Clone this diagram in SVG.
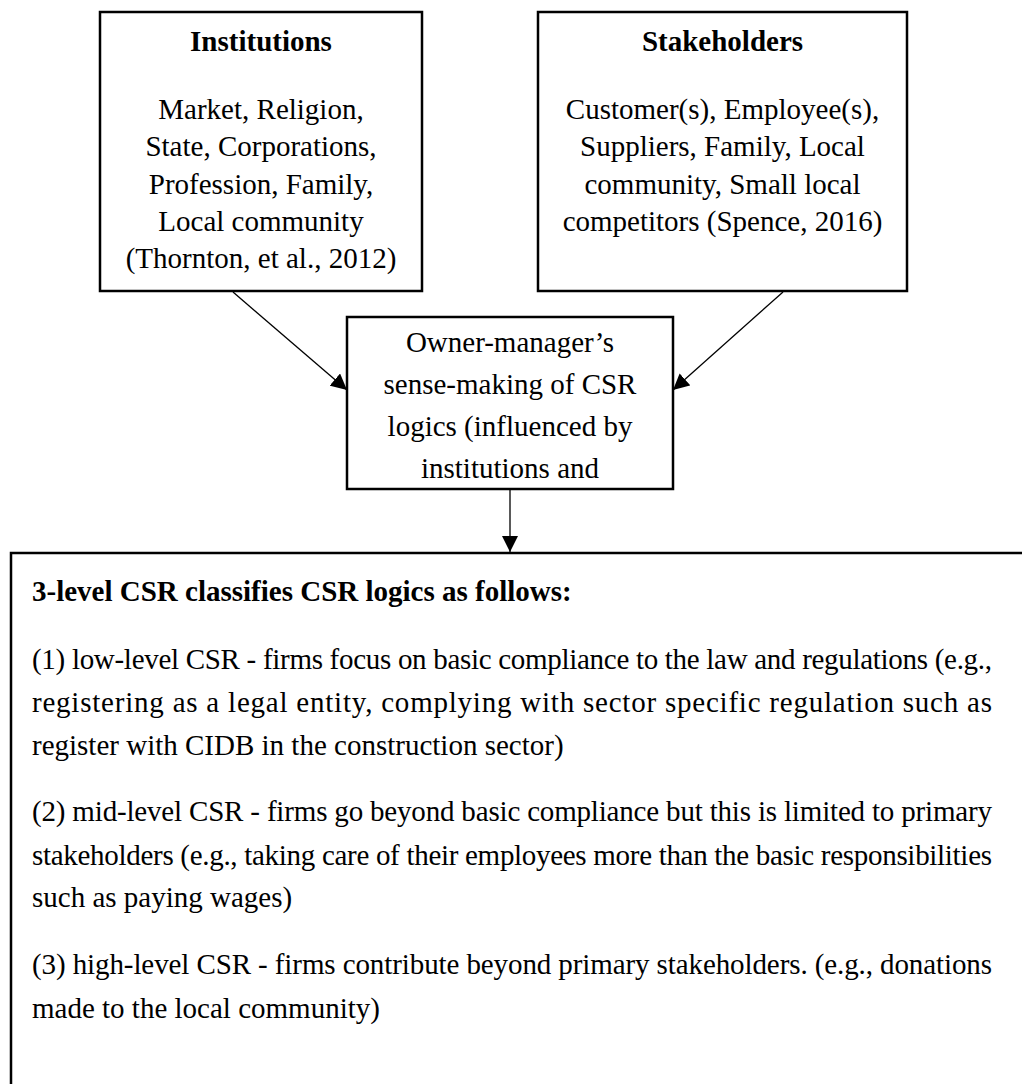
<svg xmlns="http://www.w3.org/2000/svg" width="1022" height="1084" viewBox="0 0 1022 1084">
<style>
.box{fill:#fff;stroke:#000;stroke-width:2.5}
.t{font-family:"Liberation Serif","Times New Roman",serif;font-size:29px;fill:#000}
.c{text-anchor:middle}
.b{font-weight:bold}
.conn{stroke:#000;stroke-width:1.3;fill:none}
</style>
<defs>
<marker id="ah" viewBox="0 0 10 10" refX="10" refY="5" markerWidth="16" markerHeight="16" markerUnits="userSpaceOnUse" orient="auto">
<path d="M0,0 L10,5 L0,10 z" fill="#000"/>
</marker>
</defs>
<rect width="1022" height="1084" fill="#fff"/>
<g id="institutions">
<rect class="box" x="100" y="12" width="322" height="279"/>
<text class="t c b" x="261" y="51">Institutions</text>
<text class="t c" x="261" y="119">Market, Religion,</text>
<text class="t c" x="261" y="156">State, Corporations,</text>
<text class="t c" x="261" y="194">Profession, Family,</text>
<text class="t c" x="261" y="231">Local community</text>
<text class="t c" x="261" y="268">(Thornton, et al., 2012)</text>
</g>
<g id="stakeholders">
<rect class="box" x="538" y="12" width="369" height="279"/>
<text class="t c b" x="722.5" y="51">Stakeholders</text>
<text class="t c" x="722.5" y="119">Customer(s), Employee(s),</text>
<text class="t c" x="722.5" y="156">Suppliers, Family, Local</text>
<text class="t c" x="722.5" y="194">community, Small local</text>
<text class="t c" x="722.5" y="231">competitors (Spence, 2016)</text>
</g>
<g id="sensemaking">
<rect class="box" x="347" y="317" width="326" height="172"/>
<text class="t c" x="510" y="352">Owner-manager’s</text>
<text class="t c" x="510" y="394">sense-making of CSR</text>
<text class="t c" x="510" y="436">logics (influenced by</text>
<text class="t c" x="510" y="478">institutions and</text>
</g>
<g id="classification">
<rect class="box" x="11" y="553" width="1040" height="560"/>
<text class="t b" x="32" y="601">3-level CSR classifies CSR logics as follows:</text>
<text class="t" x="32" y="669" textLength="960" lengthAdjust="spacing">(1) low-level CSR - firms focus on basic compliance to the law and regulations (e.g.,</text>
<text class="t" x="32" y="712" textLength="960" lengthAdjust="spacing">registering as a legal entity, complying with sector specific regulation such as</text>
<text class="t" x="32" y="755">register with CIDB in the construction sector)</text>
<text class="t" x="32" y="821" textLength="960" lengthAdjust="spacing">(2) mid-level CSR - firms go beyond basic compliance but this is limited to primary</text>
<text class="t" x="32" y="865" textLength="960" lengthAdjust="spacing">stakeholders (e.g., taking care of their employees more than the basic responsibilities</text>
<text class="t" x="32" y="907">such as paying wages)</text>
<text class="t" x="32" y="974" textLength="960" lengthAdjust="spacing">(3) high-level CSR - firms contribute beyond primary stakeholders. (e.g., donations</text>
<text class="t" x="32" y="1018">made to the local community)</text>
</g>
<g id="connectors">
<line class="conn" x1="233" y1="292" x2="347" y2="390" marker-end="url(#ah)"/>
<line class="conn" x1="783" y1="292" x2="673" y2="390" marker-end="url(#ah)"/>
<line class="conn" x1="510" y1="489" x2="510" y2="552" marker-end="url(#ah)"/>
</g>
</svg>
